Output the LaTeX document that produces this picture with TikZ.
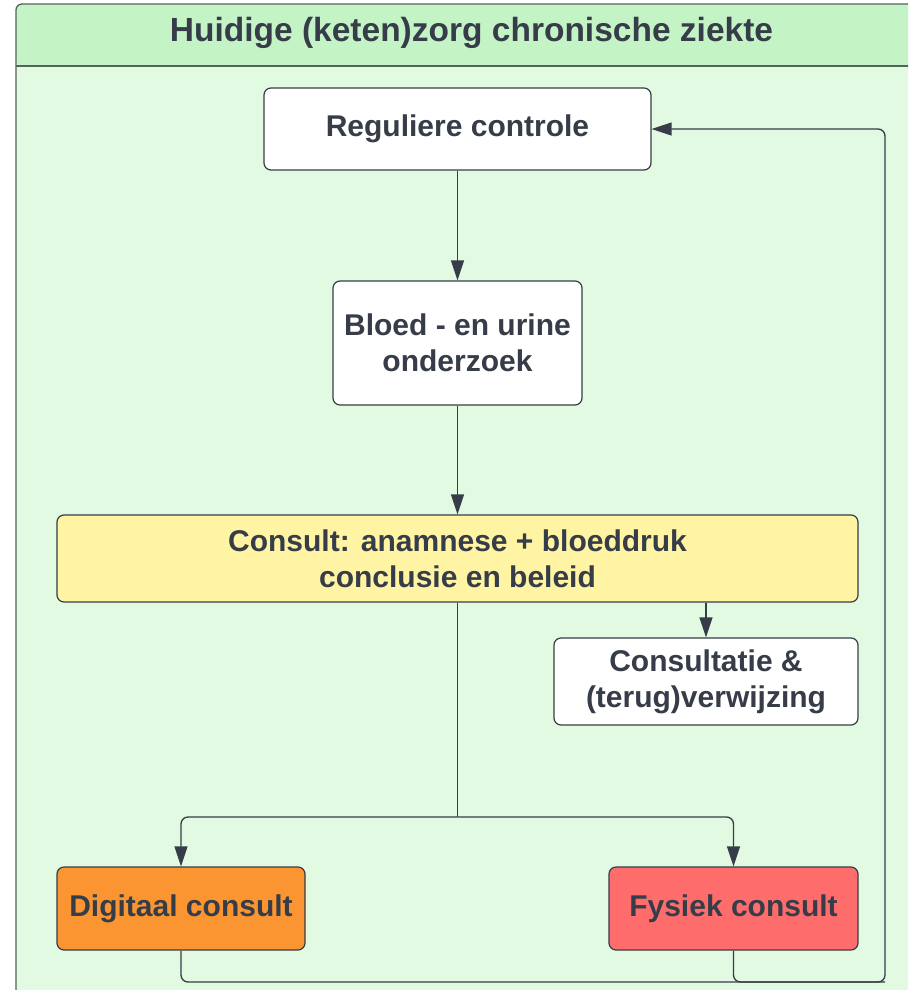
\documentclass[tikz,border=0pt]{standalone}
\usepackage{fontspec}
\setmainfont{Liberation Sans}
\usetikzlibrary{arrows.meta,positioning}
\definecolor{paneel}{HTML}{E2F9E2}
\definecolor{kop}{HTML}{C4F4C6}
\definecolor{rand}{HTML}{56635B}
\definecolor{tekst}{HTML}{363D48}
\definecolor{geel}{HTML}{FFF4A3}
\definecolor{oranje}{HTML}{FB9531}
\definecolor{rood}{HTML}{FF6C6C}

\begin{document}
\begin{tikzpicture}[x=1pt, y=-1pt,
    stap/.style={draw=tekst, line width=1.2pt, rounded corners=7pt, fill=white, align=center,
        inner sep=0pt, text=tekst, font=\fontsize{30}{36}\selectfont\bfseries},
    pijl/.style={draw=tekst, line width=1.3pt, rounded corners=7pt, -{Triangle[length=20pt,width=13pt]}},
    lijn/.style={draw=tekst, line width=1.3pt, rounded corners=7pt}]

                \useasboundingbox (0,0) rectangle (908,990);
                \clip (0,0) rectangle (908,990);

                % Kader met kop
                \fill[paneel, rounded corners=6pt] (16,4) rectangle (927,1010);
                \fill[kop, rounded corners=6pt] (16,66) |- (927,4) -- (927,66) -- cycle;
                \draw[rand, line width=1.3pt] (16,66) -- (927,66);
                \draw[rand, line width=1.3pt, rounded corners=6pt] (16,1010) |- (927,4) -- (927,1010);
                \node[text=tekst, font=\fontsize{33.5}{40}\selectfont\bfseries] at (471.5, 33) (titel) {Huidige (keten)zorg chronische ziekte};

                % Nodes
                \node[stap, minimum width=387pt, minimum height=82pt] at (457.5, 129) (regul) {Reguliere controle};
                \node[stap, minimum width=249pt, minimum height=124pt] at (457.5, 343) (bloed) {Bloed - en urine\\onderzoek};
                \node[stap, fill=geel, minimum width=801pt, minimum height=87pt] at (457.5, 558.5) (consult) {Consult: anamnese + bloeddruk\\conclusie en beleid};
                \node[stap, minimum width=304pt, minimum height=87pt] at (706, 681.5) (verwijs) {Consultatie \&\\(terug)verwijzing};
                \node[stap, fill=oranje, minimum width=248pt, minimum height=83pt] at (181, 908.5) (digitaal) {Digitaal consult};
                \node[stap, fill=rood, minimum width=249pt, minimum height=83pt] at (733.5, 908.5) (fysiek) {Fysiek consult};

                \coordinate (splits) at (457.5, 817);
                \coordinate (hoek) at (885, 982);

                \draw[pijl] (regul) -- (bloed);
                \draw[pijl] (bloed) -- (consult);
                \draw[pijl] (consult.south -| verwijs) -- (verwijs);
                \draw[lijn] (consult) -- (splits);
                \draw[pijl] (splits) -| (digitaal);
                \draw[pijl] (splits) -| (fysiek);
                \draw[pijl] (digitaal) |- (hoek) |- (regul);
                \draw[lijn] (fysiek) |- (hoek);

            \end{tikzpicture}
\end{document}
